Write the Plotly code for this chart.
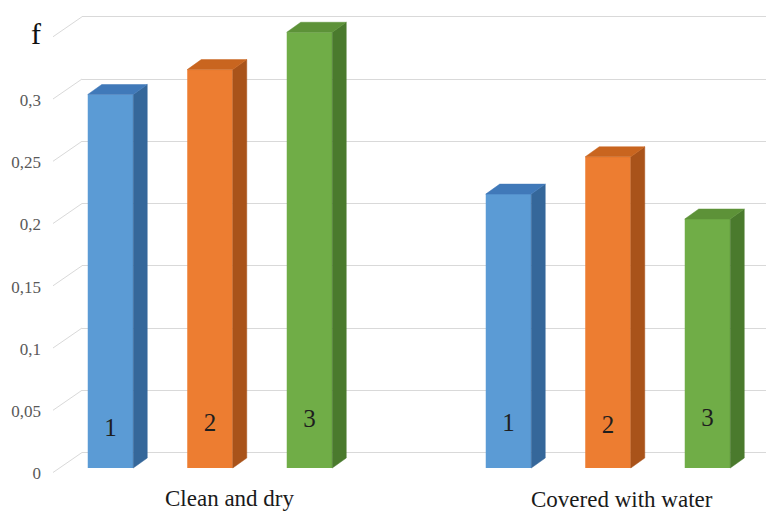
import plotly.graph_objects as go

# ---- data -------------------------------------------------------------
categories = ["Clean and dry", "Covered with water"]
series_names = ["1", "2", "3"]
sample_1 = [0.30, 0.22]
sample_2 = [0.32, 0.25]
sample_3 = [0.35, 0.20]
tick_values = [0, 0.05, 0.1, 0.15, 0.2, 0.25, 0.3, 0.35]
tick_labels = ["0", "0,05", "0,1", "0,15", "0,2", "0,25", "0,3", "f"]

series_values = [sample_1, sample_2, sample_3]

# ---- styling / geometry ----------------------------------------------
W, H = 766, 511
FONT = "'Liberation Serif', 'DejaVu Serif', serif"
GRID = "#d9d9d9"

front_colors = ["#5b9bd5", "#ed7d31", "#70ad47"]
top_colors = ["#4079b9", "#c9651f", "#5d9238"]
side_colors = ["#35679a", "#a9531a", "#4a7a2d"]

# pixel scale of the front (bar) plane
PX_PER_X = 99.5          # one bar slot
X_ORIGIN_PX = 110.5      # centre of first bar
PX_PER_Y = 1245.0        # pixels per unit of f
BASE_PX = 468.0          # y pixel of f = 0 on the front plane
BAR_W = 45.5 / PX_PER_X

# oblique depth of the bars and of the chart walls (pixels)
BAR_DX, BAR_DY = 14.0, 10.0
WALL_BACK_PX = 82.0      # left edge of the back wall
WALL_FRONT_PX = 53.0     # front end of the side-wall lines
WALL_BACK_DY = 15.5      # back wall sits this far above the bar plane
WALL_FRONT_DY = -4.5
LABEL_DY = -5.5

x2_range = [-X_ORIGIN_PX / PX_PER_X, (W - X_ORIGIN_PX) / PX_PER_X]
y2_range = [(BASE_PX - H) / PX_PER_Y, BASE_PX / PX_PER_Y]
back_base = BASE_PX - WALL_BACK_DY
y_back_range = [(back_base - H) / PX_PER_Y, back_base / PX_PER_Y]

dx = BAR_DX / PX_PER_X
dy = BAR_DY / PX_PER_Y


def px_to_x2(px):
    return (px - X_ORIGIN_PX) / PX_PER_X


fig = go.Figure()

# empty trace keeping the back-wall subplot alive
fig.add_trace(go.Scatter(x=[None], y=[None], xaxis="x", yaxis="y",
                         showlegend=False, hoverinfo="skip"))

# side-wall lines joining each tick label to its back-wall gridline
for v in tick_values:
    fig.add_trace(go.Scatter(
        x=[px_to_x2(WALL_FRONT_PX), px_to_x2(WALL_BACK_PX)],
        y=[v + WALL_FRONT_DY / PX_PER_Y, v + WALL_BACK_DY / PX_PER_Y],
        mode="lines", line=dict(color=GRID, width=1),
        xaxis="x2", yaxis="y2", showlegend=False, hoverinfo="skip"))

n_series = len(series_values)
slot = n_series + 1
for j, vals in enumerate(series_values):
    xs = [i * slot + j for i in range(len(categories))]
    # front faces
    fig.add_trace(go.Bar(
        x=xs, y=vals, width=BAR_W, name=series_names[j],
        marker=dict(color=front_colors[j], line=dict(width=0)),
        xaxis="x2", yaxis="y2", showlegend=False))
    for x, v in zip(xs, vals):
        xl, xr = x - BAR_W / 2, x + BAR_W / 2
        # right side face
        fig.add_trace(go.Scatter(
            x=[xr, xr + dx, xr + dx, xr, xr],
            y=[0, dy, v + dy, v, 0],
            fill="toself", fillcolor=side_colors[j], mode="lines",
            line=dict(color=side_colors[j], width=0.5),
            xaxis="x2", yaxis="y2", showlegend=False, hoverinfo="skip"))
        # top face
        fig.add_trace(go.Scatter(
            x=[xl, xl + dx, xr + dx, xr, xl],
            y=[v, v + dy, v + dy, v, v],
            fill="toself", fillcolor=top_colors[j], mode="lines",
            line=dict(color=top_colors[j], width=0.5),
            xaxis="x2", yaxis="y2", showlegend=False, hoverinfo="skip"))

# sample numbers written on the bars
num_label_y = [[0.031, 0.035], [0.035, 0.033], [0.038, 0.039]]
for j in range(n_series):
    fig.add_trace(go.Scatter(
        x=[i * slot + j for i in range(len(categories))],
        y=num_label_y[j], mode="text",
        text=[series_names[j]] * len(categories),
        textfont=dict(family=FONT, size=25, color="#1e1e1e"),
        xaxis="x2", yaxis="y2", showlegend=False, hoverinfo="skip"))

# category names under each group
cat_shift = [(20, -30), (14, -31)]
for i, name in enumerate(categories):
    fig.add_annotation(
        x=i * slot + (n_series - 1) / 2, y=0, xref="x2", yref="y2",
        text=name, showarrow=False, xshift=cat_shift[i][0], yshift=cat_shift[i][1],
        font=dict(family=FONT, size=23, color="#1a1a1a"))

tick_text = [t if t != "f" else '<span style="font-size:30px;fill:#111111">f</span>'
             for t in tick_labels]

fig.update_layout(
    width=W, height=H,
    margin=dict(l=0, r=0, t=0, b=0),
    paper_bgcolor="white", plot_bgcolor="rgba(0,0,0,0)",
    barmode="overlay",
    xaxis=dict(domain=[WALL_BACK_PX / W, 1], range=[0, 1], visible=False,
               fixedrange=True),
    yaxis=dict(domain=[0, 1], range=y_back_range, tickvals=tick_values,
               ticktext=tick_text, showgrid=True, gridcolor=GRID, gridwidth=1,
               zeroline=False, showline=False, ticks="",
               ticklabelstandoff=40,
               ticklabelshift=int(round(WALL_BACK_DY - LABEL_DY)),
               tickfont=dict(family=FONT, size=17, color="#595959"),
               fixedrange=True),
    xaxis2=dict(domain=[0, 1], range=x2_range, anchor="y2", visible=False,
                fixedrange=True),
    yaxis2=dict(domain=[0, 1], range=y2_range, anchor="x2", visible=False,
                fixedrange=True),
)

fig.write_html("out.html")
